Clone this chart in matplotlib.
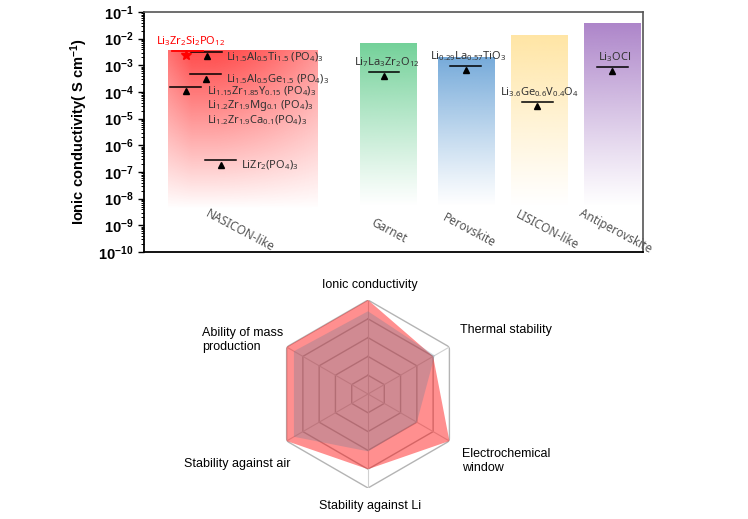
import matplotlib
matplotlib.use("Agg")
import matplotlib.pyplot as plt
import matplotlib.transforms as mtransforms
from matplotlib.colors import to_rgb
from matplotlib.ticker import LogLocator, NullFormatter
import numpy as np

plt.rcParams["font.family"] = ["Liberation Sans", "DejaVu Sans"]
plt.rcParams["mathtext.default"] = "regular"
plt.rcParams["mathtext.fontset"] = "custom"
plt.rcParams["mathtext.rm"] = "Liberation Sans"
plt.rcParams["mathtext.bf"] = "Liberation Sans:bold"

# ---- top panel: electrolyte families ----
families = ["NASICON-like", "Garnet", "Perovskite", "LISICON-like", "Antiperovskite"]
fam_x = [1.97, 4.90, 6.46, 7.92, 9.39]
fam_width = [2.99, 1.14, 1.14, 1.14, 1.14]
fam_top = [3.5e-3, 7e-3, 2e-3, 1.35e-2, 3.8e-2]
fam_bottom = [4e-9, 5e-9, 5e-9, 5e-9, 5e-9]
fam_colors = ["#ff3c3c", "#6ccf94", "#6fa6d8", "#ffe4a0", "#a97fc7"]

# measured compounds (triangle markers)
pts_x = [1.26, 1.24, 0.84, 1.54, 4.81, 6.45, 7.88, 9.38]
pts_y = [2.3e-3, 3.2e-4, 1.1e-4, 1.9e-7, 4.0e-4, 6.8e-4, 3.0e-5, 5.9e-4]

# NASICON labels, to the right of the points
nas_labels = [r"$Li_{1.5}Al_{0.5}Ti_{1.5}$ $(PO_4)_3$",
              r"$Li_{1.5}Al_{0.5}Ge_{1.5}$ $(PO_4)_3$",
              r"$Li_{1.15}Zr_{1.85}Y_{0.15}$ $(PO_4)_3$",
              r"$Li_{1.2}Zr_{1.9}Mg_{0.1}$ $(PO_4)_3$",
              r"$Li_{1.2}Zr_{1.9}Ca_{0.1}(PO_4)_3$",
              r"$LiZr_2(PO_4)_3$"]
nas_lab_x = [1.64, 1.64, 1.26, 1.26, 1.26, 1.94]
nas_lab_y = [2.0e-3, 3.0e-4, 1.05e-4, 3.0e-5, 9.0e-6, 1.75e-7]

# labels for other families, above their points
top_labels = [r"$Li_7La_3Zr_2O_{12}$", r"$Li_{0.29}La_{0.57}TiO_3$",
              r"$Li_{3.6}Ge_{0.6}V_{0.4}O_4$", r"$Li_3OCl$"]

# highlighted compound
star_x, star_y = 0.84, 2.5e-3
star_label = r"$Li_3Zr_2Si_2PO_{12}$"

# ---- bottom panel: radar ----
radar_axes = ["Ionic conductivity", "Thermal stability", "Electrochemical\nwindow",
              "Stability against Li", "Stability against air", "Ability of mass\nproduction"]
red_vals = [5, 4.0, 5, 4.0, 5, 5]
blue_vals = [4.4, 4.1, 3.0, 3.05, 4.55, 4.55]

fig = plt.figure(figsize=(7.48, 5.19), dpi=100)
W, H = 748, 519
ax = fig.add_axes([144 / W, 1 - 252 / H, 499 / W, 240 / H])
ax.set_yscale("log")
ax.set_xlim(0, 10)
ax.set_ylim(1e-10, 1e-1)

to_axes = ax.transScale + ax.transLimits
for xc, w, top, bot, col in zip(fam_x, fam_width, fam_top, fam_bottom, fam_colors):
    (x0, y0) = to_axes.transform((xc - w / 2, bot))
    (x1, y1) = to_axes.transform((xc + w / 2, top))
    ny, nx = 120, 60
    v = np.linspace(0, 1, ny)[:, None]   # 0 bottom -> 1 top
    u = np.linspace(0, 1, nx)[None, :]
    rgba = np.zeros((ny, nx, 4))
    rgba[..., :3] = to_rgb(col)
    if w > 2:
        horiz = 1 - 0.4 * np.clip((u - 0.3) / 0.7, 0, 1) ** 1.5 - 0.2 * np.clip((0.15 - u) / 0.15, 0, 1)
        rgba[..., 3] = 0.92 * v ** 0.95 * horiz
    else:
        rgba[..., 3] = 0.95 * v ** 1.1
    ax.imshow(rgba, extent=(x0, x1, y0, y1), transform=ax.transAxes, origin="lower",
              aspect="auto", interpolation="bilinear", zorder=1)
ax.set_xlim(0, 10)
ax.set_ylim(1e-10, 1e-1)

px_up = mtransforms.ScaledTranslation(0, 3 / 72, fig.dpi_scale_trans)
lbl_up = mtransforms.ScaledTranslation(0, 10 / 72, fig.dpi_scale_trans)
for x, y in zip(pts_x, pts_y):
    ax.plot([x - 0.31, x + 0.31], [y, y], color="black", lw=1.1,
            transform=ax.transData + px_up, zorder=3)
ax.plot(pts_x, pts_y, "^", color="black", ms=5, zorder=4)

for lab, x, y in zip(nas_labels, nas_lab_x, nas_lab_y):
    ax.text(x, y, lab, fontsize=8, color="#333333", va="center", ha="left",
            family=["Noto Sans", "DejaVu Sans"], zorder=5)
for lab, x, y in zip(top_labels, pts_x[4:], pts_y[4:]):
    ax.text(x + 0.05, y, lab, fontsize=8, color="#333333", va="center", ha="center",
            family=["Noto Sans", "DejaVu Sans"], transform=ax.transData + lbl_up, zorder=5)

ax.plot([star_x - 0.28, star_x + 0.34], [star_y, star_y], color="red", lw=1.3,
        transform=ax.transData + px_up, zorder=3)
ax.plot([star_x], [star_y], "*", color="red", ms=7, zorder=4)
ax.text(star_x + 0.1, star_y, star_label, fontsize=8, color="red", ha="center", va="center",
        family=["Noto Sans", "DejaVu Sans"], transform=ax.transData + lbl_up, zorder=5)

cat_dx = [-0.05, 0.0, 0.05, 0.15, 0.05]
for name, xc, dx in zip(families, fam_x, cat_dx):
    ax.text(xc + dx, 10 ** -9.2, name, rotation=-28, rotation_mode="anchor",
            ha="center", va="center", fontsize=8.5, color="#555555",
            family=["Noto Sans", "DejaVu Sans"], clip_on=False)

ax.yaxis.set_major_locator(LogLocator(base=10, numticks=20))
ax.yaxis.set_minor_locator(LogLocator(base=10, subs=np.arange(2, 10), numticks=20))
ax.yaxis.set_minor_formatter(NullFormatter())
exps = range(-10, 0)
ax.set_yticks([10.0 ** e for e in exps])
ax.set_yticklabels([r"$\mathbf{10^{%d}}$" % e for e in exps], fontsize=10.5)
ax.tick_params(axis="y", which="major", direction="out", length=4, width=1)
ax.tick_params(axis="y", which="minor", direction="out", length=2, width=0.7)
ax.set_xticks([])
ax.set_ylabel(r"Ionic conductivity( S cm$^{-1}$)", fontsize=10.5, fontweight="bold", labelpad=6)
ax.spines["left"].set_linewidth(1.3)
ax.spines["bottom"].set_linewidth(1.3)
for s in ["top", "right"]:
    ax.spines[s].set_color("#555555")
    ax.spines[s].set_linewidth(1.2)

# radar
cx, cy, r = 368, 394, 94
rax = fig.add_axes([(cx - r) / W, 1 - (cy + r) / H, 2 * r / W, 2 * r / H], polar=True)
rax.set_theta_offset(np.pi / 2)
rax.set_theta_direction(-1)
n = len(radar_axes)
ang = np.linspace(0, 2 * np.pi, n, endpoint=False)
closed = np.append(ang, ang[0])
rax.set_ylim(0, 5)
rax.grid(False)
rax.spines["polar"].set_visible(False)
rax.set_xticks([])
rax.set_yticks([])
for lev in range(1, 6):
    rax.plot(closed, [lev] * (n + 1), color="#b4b4b4", lw=1.0, zorder=1)
for a in ang:
    rax.plot([a, a], [0, 5], color="#d0d0d0", lw=0.8, zorder=1)
rax.fill(closed, np.append(red_vals, red_vals[0]), color="red", alpha=0.44, lw=0, zorder=2)
rax.fill(closed, np.append(blue_vals, blue_vals[0]), color=(0.4, 0.5, 0.6), alpha=0.3, lw=0, zorder=3)

lab_pos = [(370, 285, "center"), (460, 330, "left"), (462, 461, "left"),
           (370, 506, "center"), (291, 464, "right"), (202, 340, "left")]
for name, (lx, ly, ha) in zip(radar_axes, lab_pos):
    fig.text(lx / W, 1 - ly / H, name, ha=ha, va="center", fontsize=9, color="black",
             linespacing=1.15)

fig.savefig("out.png", dpi=100)
